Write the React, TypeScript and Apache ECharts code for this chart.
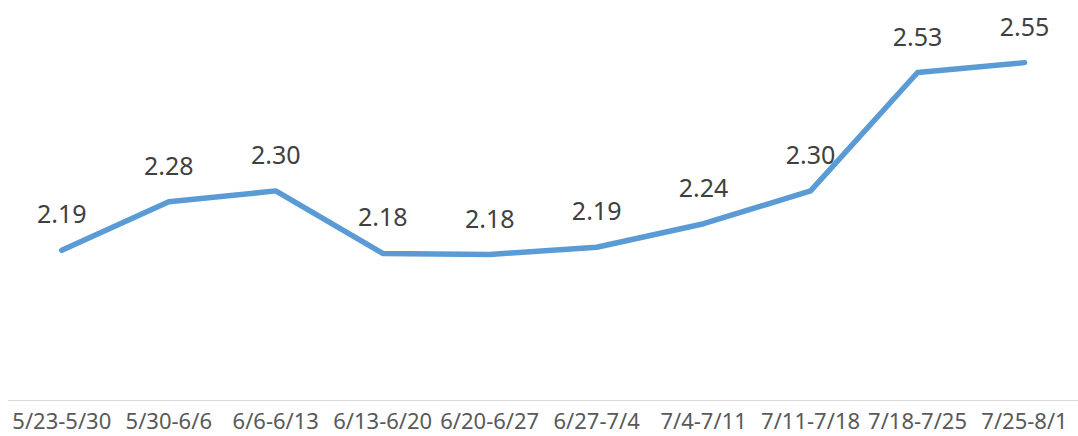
import React, { useEffect, useRef } from "react";
import * as echarts from "echarts";

const categories = [
  "5/23-5/30",
  "5/30-6/6",
  "6/6-6/13",
  "6/13-6/20",
  "6/20-6/27",
  "6/27-7/4",
  "7/4-7/11",
  "7/11-7/18",
  "7/18-7/25",
  "7/25-8/1",
];

const values = [2.188, 2.281, 2.302, 2.182, 2.18, 2.194, 2.239, 2.302, 2.529, 2.548];

export default function App() {
  const ref = useRef<HTMLDivElement>(null);

  useEffect(() => {
    document.body.style.margin = "0";
    if (!ref.current) return;
    const chart = echarts.init(ref.current, null, { renderer: "svg" });
    chart.setOption({
      animation: false,
      backgroundColor: "#ffffff",
      grid: { left: 8.33, right: -3.67, top: 35.5, bottom: 35.5, containLabel: false },
      xAxis: {
        type: "category",
        data: categories,
        boundaryGap: true,
        axisLine: { show: true, lineStyle: { color: "#d9d9d9", width: 1 } },
        axisTick: { show: false },
        axisLabel: {
          interval: 0,
          hideOverlap: false,
          color: "#595959",
          fontFamily: "Noto Sans",
          fontSize: 22,
          lineHeight: 16,
          margin: 11.5,
        },
        splitLine: { show: false },
      },
      yAxis: {
        type: "value",
        min: 1.9,
        max: 2.6,
        show: false,
        splitLine: { show: false },
      },
      series: [
        {
          type: "line",
          data: values,
          symbol: "circle",
          symbolSize: 1,
          showSymbol: true,
          lineStyle: { color: "#5b9bd5", width: 5.5, cap: "round", join: "round" },
          itemStyle: { color: "#5b9bd5" },
          label: {
            show: true,
            position: "top",
            distance: 24,
            color: "#404040",
            fontFamily: "Noto Sans",
            fontSize: 25,
            formatter: (p: any) => Number(p.value).toFixed(2),
          },
        },
      ],
    });
    return () => chart.dispose();
  }, []);

  return <div ref={ref} style={{ width: 1078, height: 436 }} />;
}
